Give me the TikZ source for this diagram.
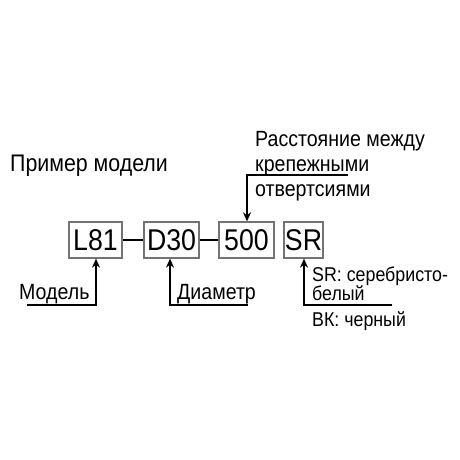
\documentclass[tikz,border=0pt]{standalone}
\usepackage{fontspec}
\setmainfont[FakeStretch=0.89]{Liberation Sans}
\usetikzlibrary{arrows.meta}
\begin{document}
\begin{tikzpicture}[x=1pt,y=-1pt,
  box/.style={draw=black!55,line width=1.3pt,inner sep=0pt,minimum height=36pt,font=\fontsize{30}{30}\selectfont},
  lbl/.style={inner sep=0pt,anchor=base west,font=\fontsize{22}{22}\selectfont},
  slbl/.style={lbl,font=\fontsize{20}{20}\selectfont},
  arr/.style={line width=1.6pt,-{Stealth[length=9pt,width=8pt]}}]
\useasboundingbox (0,0) rectangle (460,460);
\node[box,minimum width=53pt] (l81) at (95.5,240) {L81};
\node[box,minimum width=55pt] (d30) at (171.5,240) {D30};
\node[box,minimum width=55pt] (f500) at (246.5,240) {500};
\node[box,minimum width=39pt] (sr) at (303.5,240) {SR};
\draw[line width=2pt] (l81.east) -- (d30.west);
\draw[line width=2pt] (d30.east) -- (f500.west);
\node[lbl,font=\fontsize{24}{24}\selectfont] (title) at (10,171) {Пример модели};
\node[lbl] (t1) at (255,146) {Расстояние между};
\node[lbl] (t2) at (255,171) {крепежными};
\node[lbl] (t3) at (255,196) {отвертсиями};
\coordinate (c1) at (348,175);
\coordinate (c2) at (247,175);
\draw[arr] (c1) -- (c2) -- (f500.north -| c2);
\node[lbl] (m) at (19,299) {Модель};
\coordinate (m1) at (27,305);
\coordinate (m2) at (96,305);
\draw[arr] (m1) -- (m2) -- (l81.south -| m2);
\node[lbl] (d) at (177,299) {Диаметр};
\coordinate (d1) at (248,305);
\coordinate (d2) at (170,305);
\draw[arr] (d1) -- (d2) -- (d30.south -| d2);
\node[slbl] (s1) at (312,281) {SR: серебристо-};
\node[slbl] (s2) at (312,300) {белый};
\node[slbl] (s3) at (312,326) {ВК: черный};
\coordinate (e1) at (392,305);
\coordinate (e2) at (304,305);
\draw[arr] (e1) -- (e2) -- (sr.south -| e2);
\end{tikzpicture}
\end{document}
